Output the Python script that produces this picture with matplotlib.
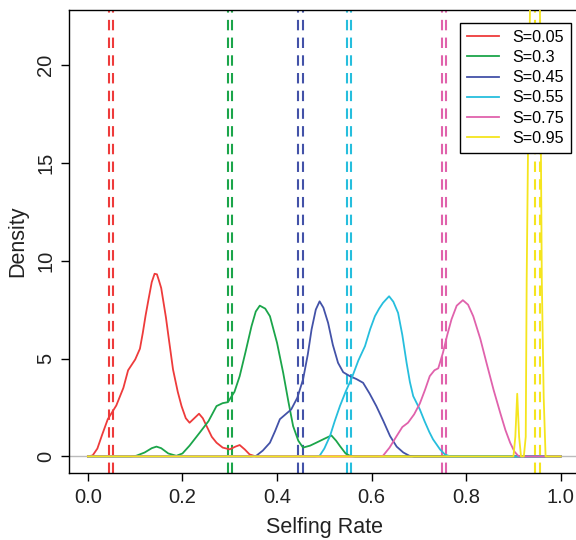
"""Density of estimated selfing rate for several true S values."""
import matplotlib
matplotlib.use("Agg")
import matplotlib.pyplot as plt

plt.rcParams.update({
    "font.family": ["Liberation Sans", "DejaVu Sans"],
    "font.size": 14,
})

labels = ["S=0.05", "S=0.3", "S=0.45", "S=0.55", "S=0.75", "S=0.95"]
colors = ["#EE3B3B", "#1BA54A", "#4352A8", "#26BEDD", "#E062AC", "#F5E51E"]

# density curves (x = selfing rate, y = density)
red_x = [0, 0.01, 0.02, 0.03, 0.042, 0.06, 0.075, 0.085, 0.1, 0.11, 0.116, 0.122,
         0.128, 0.135, 0.141, 0.146, 0.15, 0.155, 0.159, 0.165, 0.17, 0.18, 0.19,
         0.198, 0.207, 0.215, 0.225, 0.235, 0.243, 0.251, 0.262, 0.272, 0.285,
         0.3, 0.312, 0.321, 0.332, 0.342, 0.355, 1.0]
red_y = [0, 0.05, 0.4, 1.1, 1.9, 2.6, 3.5, 4.4, 4.95, 5.5, 6.3, 7.2,
         8.0, 8.9, 9.33, 9.3, 9.0, 8.6, 8.0, 7.1, 6.2, 4.44, 3.3,
         2.57, 1.95, 1.72, 1.95, 2.18, 1.95, 1.55, 1.0, 0.7, 0.45,
         0.36, 0.5, 0.58, 0.35, 0.1, 0, 0]

green_x = [0, 0.09, 0.102, 0.12, 0.135, 0.145, 0.155, 0.17, 0.187, 0.2, 0.215,
           0.236, 0.255, 0.272, 0.285, 0.296, 0.31, 0.321, 0.333, 0.346, 0.355,
           0.3635, 0.375, 0.385, 0.4, 0.413, 0.424, 0.434, 0.445, 0.455, 0.47,
           0.483, 0.5, 0.515, 0.525, 0.533, 0.545, 0.555, 0.565, 1.0]
green_y = [0, 0, 0.03, 0.2, 0.42, 0.5, 0.42, 0.15, 0.03, 0.15, 0.55,
           1.2, 1.8, 2.57, 2.72, 2.77, 3.3, 4.1, 5.3, 6.65, 7.4,
           7.7, 7.55, 7.16, 5.8, 4.27, 2.8, 1.55, 0.8, 0.45, 0.55,
           0.7, 0.9, 1.07, 0.8, 0.53, 0.15, 0.02, 0, 0]

blue_x = [0, 0.345, 0.356, 0.37, 0.385, 0.396, 0.406, 0.418, 0.43, 0.443, 0.455,
          0.465, 0.473, 0.482, 0.49, 0.498, 0.508, 0.518, 0.529, 0.54, 0.554,
          0.568, 0.582, 0.596, 0.61, 0.625, 0.639, 0.653, 0.667, 0.68, 0.69, 1.0]
blue_y = [0, 0, 0.03, 0.3, 0.7, 1.3, 1.9, 2.15, 2.4, 3.0, 3.93,
          5.2, 6.48, 7.5, 7.92, 7.6, 6.82, 5.7, 4.78, 4.3, 4.1,
          3.95, 3.76, 3.2, 2.57, 1.8, 1.04, 0.5, 0.2, 0.03, 0, 0]

cyan_x = [0, 0.48, 0.49, 0.5, 0.512, 0.522, 0.533, 0.545, 0.558, 0.572, 0.586,
          0.597, 0.607, 0.616, 0.624, 0.63, 0.637, 0.646, 0.656, 0.665, 0.674,
          0.681, 0.688, 0.702, 0.712, 0.722, 0.73, 0.745, 0.755, 0.766, 1.0]
cyan_y = [0, 0, 0.03, 0.4, 1.04, 1.8, 2.57, 3.3, 4.0, 4.9, 5.63,
          6.5, 7.16, 7.55, 7.84, 8.0, 8.18, 7.9, 7.33, 6.2, 4.78,
          3.8, 3.08, 2.4, 1.8, 1.25, 0.87, 0.35, 0.1, 0, 0]

pink_x = [0, 0.615, 0.624, 0.638, 0.653, 0.665, 0.677, 0.69, 0.702, 0.713, 0.723,
          0.733, 0.741, 0.751, 0.76, 0.769, 0.78, 0.793, 0.804, 0.815, 0.83,
          0.843, 0.858, 0.872, 0.883, 0.893, 0.902, 0.91, 0.918, 1.0]
pink_y = [0, 0, 0.03, 0.45, 1.04, 1.5, 1.72, 2.15, 2.7, 3.4, 4.1,
          4.4, 4.5, 5.3, 6.2, 7.0, 7.7, 7.98, 7.75, 7.16, 6.0,
          4.78, 3.4, 2.23, 1.35, 0.7, 0.25, 0.03, 0, 0]

yellow_x = [0, 0.9, 0.904, 0.908, 0.912, 0.916, 0.922, 0.926, 0.928, 0.931,
            0.935, 0.94, 0.946, 0.951, 0.956, 0.96, 0.964, 0.968, 1.0]
yellow_y = [0, 0, 1.0, 3.2, 1.0, 0, 0, 1.0, 9.0, 16.0,
            22.8, 35.0, 45.0, 35.0, 23.0, 9.0, 3.0, 0, 0]

curves_x = [red_x, green_x, blue_x, cyan_x, pink_x, yellow_x]
curves_y = [red_y, green_y, blue_y, cyan_y, pink_y, yellow_y]

# vertical reference lines (pairs per S value)
vlines = [(0.044, 0.054), (0.297, 0.305), (0.445, 0.454),
          (0.547, 0.556), (0.748, 0.757), (0.945, 0.956)]

fig = plt.figure(figsize=(5.76, 5.40), dpi=100)
ax = fig.add_axes([0.1198, 0.124, 0.8865, 0.8574])

ax.axhline(0, color="#BBBBBB", linewidth=1.0, zorder=1)

for cx, cy, col, lab in zip(curves_x, curves_y, colors, labels):
    ax.plot(cx, cy, color=col, linewidth=1.3, label=lab, zorder=3,
            solid_joinstyle="round")

for (a, b), col in zip(vlines, colors):
    for v in (a, b):
        ax.axvline(v, color=col, linewidth=1.5, linestyle=(0, (5, 3.5)), zorder=2)

ax.set_xlim(-0.04, 1.04)
ax.set_ylim(-0.85, 22.8)
ax.set_xticks([0, 0.2, 0.4, 0.6, 0.8, 1.0])
ax.set_xticklabels(["0.0", "0.2", "0.4", "0.6", "0.8", "1.0"])
ax.set_yticks([0, 5, 10, 15, 20])
for t in ax.get_yticklabels():
    t.set_rotation(90)
    t.set_va("center")
ax.tick_params(direction="out", length=6, width=1, pad=5, labelsize=14.5,
               labelcolor="#222222")
ax.tick_params(axis="y", pad=4)
for s in ax.spines.values():
    s.set_linewidth(1.0)

ax.set_xlabel("Selfing Rate", fontsize=15.5, labelpad=7, color="#222222")
ax.set_ylabel("Density", fontsize=15.5, labelpad=6, color="#222222")

leg = ax.legend(loc="upper right", bbox_to_anchor=(0.9826, 0.9726), frameon=True,
                fancybox=False, edgecolor="black", framealpha=1, fontsize=11.6,
                handlelength=2.0, handletextpad=0.8, borderpad=0.45,
                borderaxespad=0, labelspacing=0.32)
leg.get_frame().set_linewidth(1.0)

plt.savefig("out.png", dpi=100)
plt.close()
